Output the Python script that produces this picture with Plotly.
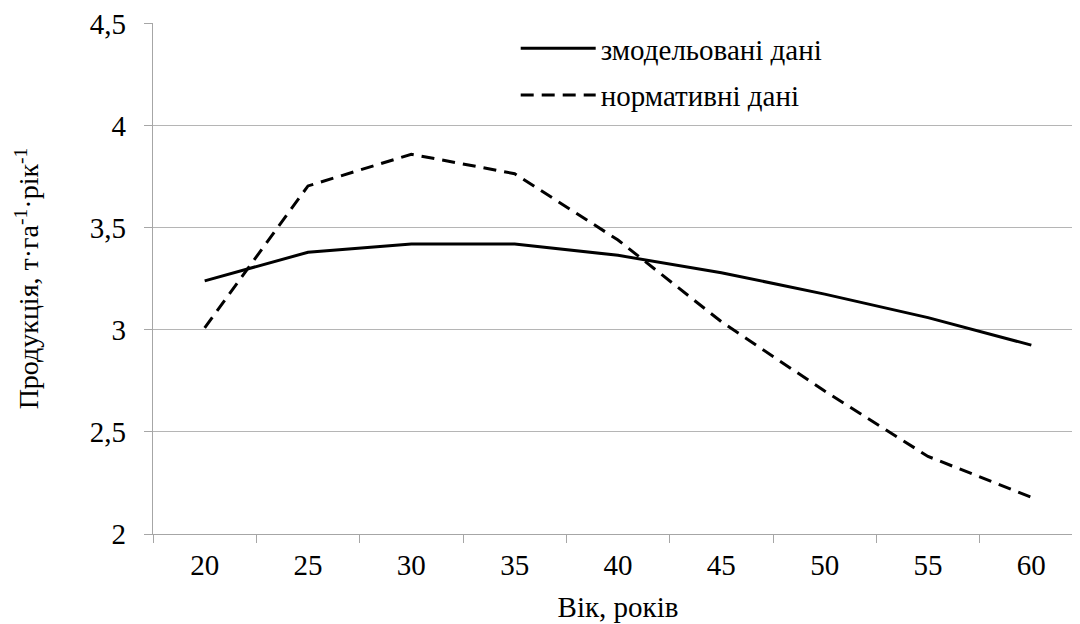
import plotly.graph_objects as go

ages = ["20", "25", "30", "35", "40", "45", "50", "55", "60"]
modelled = [3.24, 3.38, 3.42, 3.42, 3.365, 3.28, 3.175, 3.06, 2.925]
normative = [3.01, 3.705, 3.86, 3.765, 3.44, 3.04, 2.70, 2.38, 2.18]

series_names = ["змодельовані дані", "нормативні дані"]
y_ticks = [2, 2.5, 3, 3.5, 4, 4.5]

FONT = "Liberation Serif"
FS = 29
fnt = dict(family=FONT, size=FS, color="black")
fnt_yt = dict(family=FONT, size=28, color="black")

fig = go.Figure()
fig.add_trace(go.Scatter(x=ages, y=modelled, mode="lines", name=series_names[0],
                         legendgroup="a",
                         line=dict(color="black", width=3)))
fig.add_trace(go.Scatter(x=ages, y=normative, mode="lines", name=series_names[1],
                         legendgroup="b",
                         line=dict(color="black", width=3, dash="13px,8px")))

fig.update_layout(
    template="none",
    width=1080, height=624,
    margin=dict(l=145, r=5, t=15, b=98),
    paper_bgcolor="white", plot_bgcolor="white",
    separators=", ",
    font=fnt,
    showlegend=True,
    legend=dict(x=0.39, y=1.0, xanchor="left", yanchor="top",
                bgcolor="rgba(0,0,0,0)", font=fnt,
                tracegroupgap=6, traceorder="grouped", itemwidth=75),
    xaxis=dict(type="category", range=[-0.5, 8.5], showgrid=False, showline=True,
               linecolor="#a6a6a6", linewidth=1.3, ticks="outside",
               tickson="boundaries", ticklen=8, tickcolor="#a6a6a6", tickwidth=1.3,
               tickfont=fnt, ticklabelstandoff=5,
               title=dict(text="Вік, років", standoff=16, font=fnt), zeroline=False),
    yaxis=dict(range=[2, 4.503], tickvals=y_ticks, showgrid=True, gridcolor="#b5b5b5",
               gridwidth=1.3, showline=True, linecolor="#a6a6a6", linewidth=1.3,
               ticks="outside", ticklen=8, tickcolor="#a6a6a6", tickwidth=1.3,
               tickfont=fnt, ticklabelstandoff=12, zeroline=False,
               ticklabeloverflow="allow",
               title=dict(text="Продукція, т·га<sup>-1</sup>·рік<sup>-1</sup>",
                          standoff=42, font=fnt_yt)),
)

fig.write_html("out.html")
